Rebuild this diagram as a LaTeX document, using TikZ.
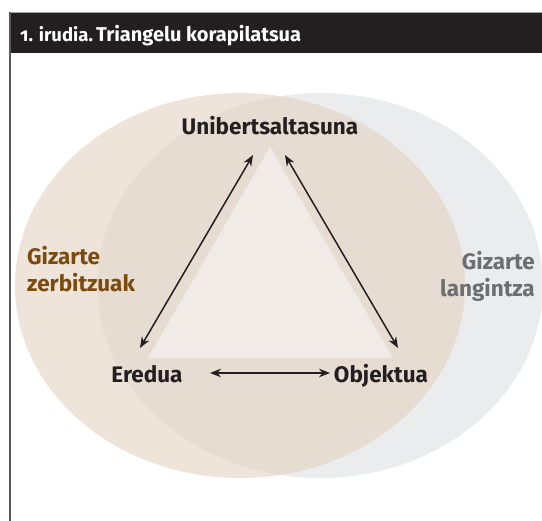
\documentclass[tikz,border=0pt]{standalone}
\usepackage{fontspec}
\setmainfont{Fira Sans}
\usetikzlibrary{arrows.meta}
\definecolor{barblack}{HTML}{231F20}
\definecolor{ellbeige}{HTML}{EEE4DA}
\definecolor{ellgray}{HTML}{EBECEE}
\definecolor{ellboth}{HTML}{E6DCD2}
\definecolor{trifill}{HTML}{F0EBE6}
\definecolor{txtbrown}{HTML}{7A4A0E}
\definecolor{txtgray}{HTML}{6D6E71}
\tikzset{
	lbl/.style={inner sep=0pt, font=\bfseries\fontsize{22.5}{27}\selectfont, text=barblack},
	twoway/.style={line width=1.5pt, draw=barblack, {Stealth[length=11pt,width=8.5pt]}-{Stealth[length=11pt,width=8.5pt]}}
}

\begin{document}
\begin{tikzpicture}[x=1pt, y=-1pt]
			%%%%% START %%%%%
			
			\useasboundingbox (0, 0) rectangle (542, 521);
			
			\fill[barblack] (10, 12) rectangle (542, 53);
			\draw[line width=0.8pt, color=black!35] (10, 12) -- (542, 12);
			\draw[line width=1.3pt, color=black!65] (10, 12) -- (10, 521);
			\node[anchor=base west, inner sep=0pt, text=white, font=\bfseries] (title) at (20, 42) {{\fontsize{18.5}{20}\selectfont\addfontfeature{Numbers=OldStyle}1. irudia.} {\fontsize{20}{24}\selectfont Triangelu korapilatsua}};
			
			\fill[ellbeige] (240, 285.5) ellipse [x radius=225pt, y radius=192.5pt];
			\fill[ellgray] (320, 285.5) ellipse [x radius=223pt, y radius=192.5pt];
			\begin{scope}
				\clip (240, 285.5) ellipse [x radius=225pt, y radius=192.5pt];
				\fill[ellboth] (320, 285.5) ellipse [x radius=223pt, y radius=192.5pt];
			\end{scope}
			
			\fill[trifill] (270, 147) -- (148, 358) -- (393, 358) -- cycle;
			
			\node[lbl, anchor=base] (uni) at (270, 135) {Unibertsaltasuna};
			\node[lbl, anchor=base] (ered) at (147, 383) {Eredua};
			\node[lbl, anchor=base] (objk) at (381, 383) {Objektua};
			\node[lbl, anchor=base west, align=left, text=txtbrown] (gzerb) at (27, 292) {Gizarte\\zerbitzuak};
			\node[lbl, anchor=base east, align=right, text=txtgray] (glang) at (535, 297) {Gizarte\\langintza};
			
			\coordinate (unil) at (253, 155);
			\coordinate (unir) at (285, 155);
			\coordinate (eredt) at (140, 348);
			\coordinate (objkt) at (398, 348);
			\coordinate (eredr) at (210, 373);
			\coordinate (objkl) at (330, 373);
			
			\draw[twoway] (unil) -- (eredt);
			\draw[twoway] (unir) -- (objkt);
			\draw[twoway] (eredr) -- (objkl);
			
			%%%%% END %%%%%
\end{tikzpicture}
\end{document}
